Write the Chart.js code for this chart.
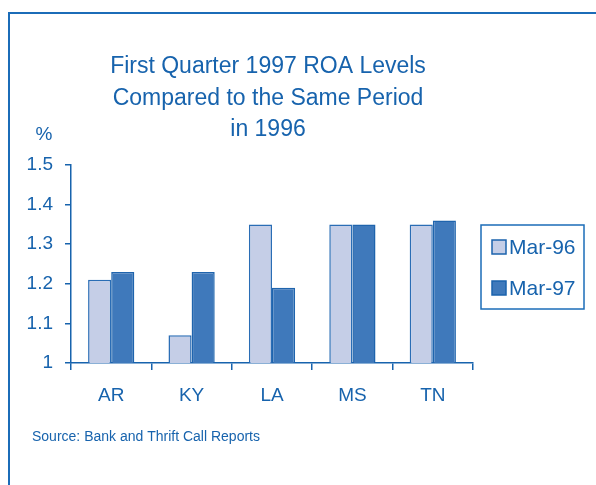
<!DOCTYPE html>
<html><head><meta charset="utf-8">
<script src="https://cdn.jsdelivr.net/npm/chart.js@4.4.0/dist/chart.umd.min.js"></script>
<style>html,body{margin:0;padding:0;background:#fff}#wrap{width:596px;height:485px}</style>
</head><body><div id="wrap"><canvas id="c" width="596" height="485"></canvas></div>
<script>
const categories = ["AR", "KY", "LA", "MS", "TN"];
const mar96 = [1.21, 1.07, 1.35, 1.35, 1.35];
const mar97 = [1.23, 1.23, 1.19, 1.35, 1.36];
const seriesLabels = ["Mar-96", "Mar-97"];
const titleLines = ["First Quarter 1997 ROA Levels", "Compared to the Same Period", "in 1996"];
const yTicks = [1, 1.1, 1.2, 1.3, 1.4, 1.5];
const sourceText = "Source: Bank and Thrift Call Reports";
const unitLabel = "%";

const BLUE = "#1763ad";
const FONT = "'Liberation Sans', Arial, sans-serif";
const LIGHT = "#c5cee7";
const DARK = "#3f79bb";

const decor = {
  id: "decor",
  beforeDraw(chart) {
    const ctx = chart.ctx;
    ctx.save();
    ctx.fillStyle = "#fff";
    ctx.fillRect(0, 0, chart.width, chart.height);
    ctx.strokeStyle = "#1b6cb8";
    ctx.lineWidth = 2;
    ctx.beginPath();
    ctx.moveTo(9, 485);
    ctx.lineTo(9, 13);
    ctx.lineTo(596, 13);
    ctx.stroke();
    ctx.restore();
  },
  afterDraw(chart) {
    const ctx = chart.ctx;
    ctx.save();
    ctx.fillStyle = BLUE;
    ctx.textAlign = "center";
    ctx.textBaseline = "middle";
    ctx.font = "23px " + FONT;
    titleLines.forEach((t, i) => ctx.fillText(t, 268, 67 + i * 31.5));
    ctx.font = "19px " + FONT;
    ctx.fillText(unitLabel, 44, 135);
    ctx.textAlign = "left";
    ctx.font = "14px " + FONT;
    ctx.fillText(sourceText, 32, 437);
    // legend
    ctx.strokeStyle = "#1b6cb8";
    ctx.lineWidth = 1.5;
    ctx.strokeRect(481, 225, 103, 84);
    const fills = [LIGHT, DARK];
    const ys = [247, 288];
    ctx.font = "21px " + FONT;
    chart.data.datasets.forEach((ds, i) => {
      ctx.fillStyle = fills[i];
      ctx.fillRect(492, ys[i] - 7, 14, 14);
      ctx.strokeStyle = "#1b63ad";
      ctx.lineWidth = 1.5;
      ctx.strokeRect(492, ys[i] - 7, 14, 14);
      ctx.fillStyle = BLUE;
      ctx.fillText(ds.label, 509, ys[i] + 1);
    });
    ctx.restore();
  }
};

new Chart(document.getElementById("c"), {
  type: "bar",
  data: {
    labels: categories,
    datasets: [
      { label: seriesLabels[0], data: mar96, backgroundColor: LIGHT, borderColor: "#2a6db5", borderWidth: 1.5, borderSkipped: "bottom" },
      { label: seriesLabels[1], data: mar97, backgroundColor: DARK, borderColor: "#1f64ad", borderWidth: 1.5, borderSkipped: "bottom" }
    ]
  },
  options: {
    responsive: false,
    animation: false,
    devicePixelRatio: 1,
    layout: { padding: { left: 0, top: 165, right: 123, bottom: 72 } },
    plugins: { legend: { display: false }, title: { display: false }, tooltip: { enabled: false } },
    datasets: { bar: { categoryPercentage: 0.575, barPercentage: 1.0 } },
    scales: {
      x: {
        offset: true,
        grid: { offset: true, drawOnChartArea: false, drawTicks: true, tickLength: 7, color: BLUE, lineWidth: 1.5 },
        border: { display: true, color: BLUE, width: 1.5 },
        ticks: { color: BLUE, font: { family: FONT, size: 19 }, padding: 14 },
        afterFit(s) { s.height = 50; }
      },
      y: {
        min: 1, max: 1.5,
        afterBuildTicks(s) { s.ticks = yTicks.map(v => ({ value: v })); },
        grid: { drawOnChartArea: false, drawTicks: true, tickLength: 6, color: BLUE, lineWidth: 1.5 },
        border: { display: true, color: BLUE, width: 1.5 },
        ticks: { color: BLUE, font: { family: FONT, size: 19 }, padding: 12, callback: v => String(Math.round(v * 10) / 10) },
        afterFit(s) { s.width = 71; }
      }
    }
  },
  plugins: [decor]
});
</script></body></html>
